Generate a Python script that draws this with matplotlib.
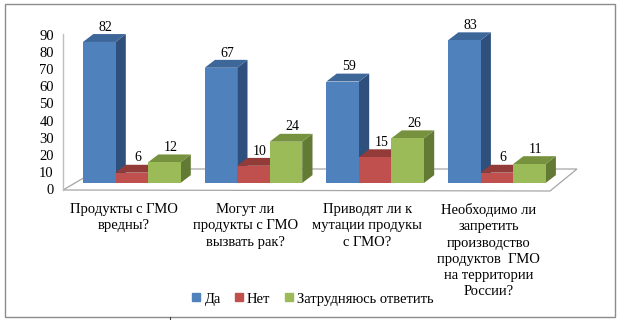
import matplotlib
matplotlib.use("Agg")
import matplotlib.pyplot as plt
from matplotlib.patches import Polygon, Rectangle
from matplotlib.lines import Line2D

plt.rcParams['font.family'] = ['Liberation Serif', 'DejaVu Serif']

categories = [
    "Продукты с ГМО\nвредны?",
    "Могут ли\nпродукты с ГМО\nвызвать рак?",
    "Приводят ли к\nмутации продукы\nс ГМО?",
    "Необходимо ли\nзапретить\nпроизводство\nпродуктов  ГМО\nна территории\nРоссии?",
]
series_names = ["Да", "Нет", "Затрудняюсь ответить"]
yes_vals = [82, 67, 59, 83]
no_vals = [6, 10, 15, 6]
hard_vals = [12, 24, 26, 11]
yticks = [0, 10, 20, 30, 40, 50, 60, 70, 80, 90]

front_cols = ["#4F81BD", "#C0504D", "#9BBB59"]
top_cols = ["#3D6699", "#923B39", "#77923F"]
side_cols = ["#2F507C", "#7E3230", "#627A33"]

W, H = 624, 320
fig = plt.figure(figsize=(W / 100, H / 100), dpi=100)

px_l, px_r, px_t, px_b = 60, 600, 20, 195
gx0, gstep = 131.75, 121.7
y0, ys = 183.0, 1.72

pos = [px_l / W, 1 - px_b / H, (px_r - px_l) / W, (px_b - px_t) / H]
ax = fig.add_axes(pos)
ax.set_xlim((px_l - gx0) / gstep, (px_r - gx0) / gstep)
ax.set_ylim((y0 - px_b) / ys, (y0 - px_t) / ys)
ax.axis('off')

def X(p):
    return (p - gx0) / gstep

def V(p):
    return (y0 - p) / ys

floor = Polygon([(X(63), V(190)), (X(99), V(169)), (X(577), V(169)), (X(550), V(191))],
                closed=True, facecolor='white', edgecolor='#A6A6A6', lw=0.9, zorder=1)
ax.add_patch(floor)

bw = 32.5 / gstep
dx = 10.3 / gstep
dy = 7.9 / ys

all_vals = [yes_vals, no_vals, hard_vals]
for gi in range(len(categories)):
    for si, vals in enumerate(all_vals):
        v = vals[gi]
        x0 = gi + (si - 1.5) * bw
        x1 = x0 + bw
        z = 3 + si
        ax.add_patch(Polygon([(x1, 0), (x1 + dx, dy), (x1 + dx, v + dy), (x1, v)],
                             closed=True, facecolor=side_cols[si], edgecolor='none', zorder=z))
        ax.add_patch(Polygon([(x0, v), (x0 + dx, v + dy), (x1 + dx, v + dy), (x1, v)],
                             closed=True, facecolor=top_cols[si], edgecolor='none', zorder=z))
        ax.add_patch(Rectangle((x0, 0), bw, v, facecolor=front_cols[si], edgecolor='none', zorder=z))
        ax.text((x0 + x1) / 2 + dx * 0.6, v + dy + 0.2, str(v), ha='center', va='bottom',
                fontsize=10, color='black', zorder=10)

yo, ys2 = 189.0, 1.711
ax2 = fig.add_axes(pos, facecolor='none')
ax2.set_xlim(ax.get_xlim())
ax2.set_ylim((yo - px_b) / ys2, (yo - px_t) / ys2)
for s in ax2.spines.values():
    s.set_visible(False)
ax2.set_yticks(yticks)
ax2.set_yticklabels([str(t) for t in yticks], fontsize=10.5)
ax2.tick_params(axis='y', length=0, pad=4.5)
ax2.plot([X(63), X(63)], [(yo - 190) / ys2, (yo - 34) / ys2], color='#BFBFBF', lw=1.0)

ax2.set_xticks([i - 8 / gstep for i in range(len(categories))])
ax2.set_xticklabels(categories, fontsize=10.5, linespacing=1.31, va='top')
ax2.tick_params(axis='x', length=0, pad=6)

handles = [Line2D([], [], marker='s', linestyle='none', markersize=5.5,
                  markerfacecolor=c, markeredgecolor=c) for c in front_cols]
fig.legend(handles, series_names, loc='center', bbox_to_anchor=(313 / W, 1 - 299 / H),
           ncol=3, frameon=False, fontsize=10.5, handlelength=0.5, handletextpad=0.3,
           columnspacing=1.0, borderpad=0)

fig.add_artist(Rectangle((5 / W, 1 - 317 / H), 610 / W, 313 / H, transform=fig.transFigure,
                         fill=False, edgecolor='#8C8C8C', lw=1.0))
fig.add_artist(Line2D([170 / W, 170 / W], [0, 3 / H], transform=fig.transFigure,
                      color='#404040', lw=0.8))

fig.savefig("out.png", dpi=100)
